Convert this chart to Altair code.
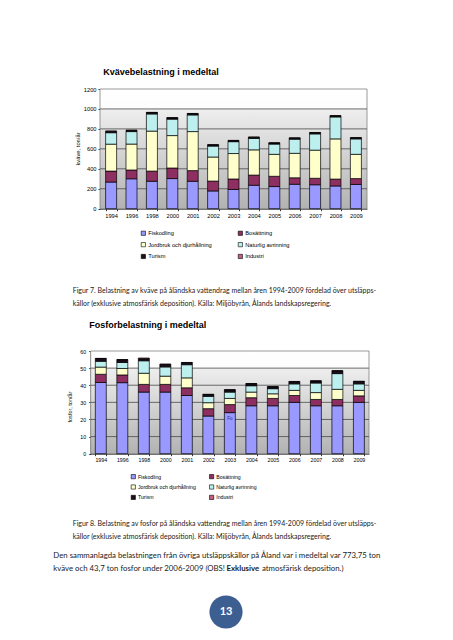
import altair as alt
import pandas as pd

years = ["1994", "1996", "1998", "2000", "2001", "2002", "2003", "2004", "2005", "2006", "2007", "2008", "2009"]
series = ["Fiskodling", "Bosättning", "Jordbruk och djurhållning", "Naturlig avrinning", "Turism", "Industri"]
colors = ["#9999FF", "#8E2F62", "#FFFFCC", "#BDEFEF", "#1C0E1C", "#C0607E"]
# legend is filled column by column: this order shows the entries row by row as in the original
legend_order = [0, 2, 4, 1, 3, 5]

# Kväve (ton/år) per källa
n_fisk = [267, 300, 275, 302, 275, 178, 193, 235, 222, 245, 240, 228, 243]
n_bos = [110, 88, 102, 106, 107, 99, 105, 102, 103, 65, 65, 69, 59]
n_jord = [270, 260, 401, 325, 391, 241, 255, 253, 220, 245, 282, 403, 243]
n_nat = [115, 125, 172, 165, 167, 110, 119, 115, 103, 142, 163, 220, 155]
n_tur = [14, 12, 14, 13, 13, 12, 11, 11, 11, 11, 12, 11, 11]
n_ind = [2, 2, 2, 2, 2, 2, 2, 2, 2, 2, 2, 2, 2]
n_ticks = [0, 200, 400, 600, 800, 1000, 1200]

# Fosfor (ton/år) per källa
p_fisk = [41.6, 41.5, 36.0, 36.0, 34.0, 22.0, 24.0, 28.0, 28.0, 30.0, 28.0, 28.0, 30.0]
p_bos = [4.8, 4.5, 4.5, 4.5, 4.5, 4.3, 4.7, 4.7, 4.3, 4.0, 3.7, 3.7, 3.8]
p_jord = [4.2, 3.8, 6.5, 4.8, 5.8, 3.5, 3.6, 3.3, 2.7, 3.0, 4.0, 5.9, 3.2]
p_nat = [3.4, 3.5, 7.3, 5.4, 7.7, 3.7, 3.7, 3.7, 3.0, 3.8, 5.6, 9.2, 3.8]
p_tur = [1.6, 1.6, 1.2, 1.5, 1.2, 1.1, 1.3, 1.2, 1.1, 1.3, 1.2, 1.6, 1.4]
p_ind = [0.1, 0.1, 0.4, 0.1, 0.1, 0.1, 0.1, 0.1, 0.1, 0.1, 0.1, 0.1, 0.1]
p_ticks = [0, 10, 20, 30, 40, 50, 60]

FONT = "Liberation Sans"
DOC = "Lato"
W, H = 437, 624

leg_domain = [series[i] for i in legend_order]
leg_range = [colors[i] for i in legend_order]


def long_df(cols):
    rows = []
    for si, (name, vals) in enumerate(zip(series, cols)):
        for y, v in zip(years, vals):
            rows.append({"year": y, "series": name, "idx": si, "v": v})
    return pd.DataFrame(rows)


df_n = long_df([n_fisk, n_bos, n_jord, n_nat, n_tur, n_ind])
df_p = long_df([p_fisk, p_bos, p_jord, p_nat, p_tur, p_ind])

gradient = {
    "gradient": "linear",
    "x1": 0, "x2": 0, "y1": 0, "y2": 1,
    "stops": [
        {"offset": 0, "color": "#FFFFFF"},
        {"offset": 0.16, "color": "#FDFDFD"},
        {"offset": 0.17, "color": "#EEEEEE"},
        {"offset": 1, "color": "#B2B2B2"},
    ],
}


def panel(df, ticks, xr, yr, pi, po, lab, ypad, xpad, lx, ly, lfont, lcol, lrow, extra=None):
    xs = alt.Scale(domain=years, range=xr, paddingInner=pi, paddingOuter=po)
    ys = alt.Scale(domain=[ticks[0], ticks[-1]], range=[yr[0], yr[1]], nice=False)
    xaxis = alt.Axis(title=None, orient="bottom", offset=yr[0] - H, labelAngle=0, labelFont=FONT,
                     labelFontSize=lab, labelColor="black", tickBand="extent", tickSize=2,
                     tickColor="black", tickWidth=0.8, domainColor="black", domainWidth=0.8,
                     labelPadding=xpad, grid=False)
    yaxis = alt.Axis(title=None, orient="left", offset=-xr[0], values=ticks, format="d",
                     labelFont=FONT, labelFontSize=lab, labelColor="black", tickSize=2,
                     tickColor="black", tickWidth=0.8, domainColor="black", domainWidth=0.8,
                     labelPadding=ypad, grid=False)
    X = alt.X("year:N", scale=xs, axis=xaxis, sort=years)
    bg = alt.Chart(pd.DataFrame({"a": [0]})).mark_rect(
        fill=gradient, stroke="#808080", strokeWidth=0.8
    ).encode(x=alt.value(xr[0]), x2=alt.value(xr[1]), y=alt.value(yr[1]), y2=alt.value(yr[0]))
    grid = alt.Chart(pd.DataFrame({"v": ticks[1:-1]})).mark_rule(
        color="#4A4A4A", strokeWidth=0.8
    ).encode(y=alt.Y("v:Q", scale=ys, axis=yaxis), x=alt.value(xr[0]), x2=alt.value(xr[1]))
    bars = alt.Chart(df).mark_bar(stroke="black", strokeWidth=0.7).encode(
        x=X,
        y=alt.Y("v:Q", scale=ys, axis=yaxis, stack="zero"),
        color=alt.Color(
            "series:N",
            scale=alt.Scale(domain=leg_domain, range=leg_range),
            legend=alt.Legend(
                title=None, orient="none", legendX=lx, legendY=ly, columns=2,
                symbolType="square", symbolSize=18, symbolStrokeColor="black",
                symbolStrokeWidth=0.6, labelFont=FONT, labelFontSize=lfont,
                labelColor="black", labelOffset=2, columnPadding=lcol, rowPadding=lrow,
                padding=0,
            ),
        ),
        order=alt.Order("idx:Q"),
    )
    layers = [bg, grid, bars]
    if extra is not None:
        layers.append(extra(X, ys, yaxis))
    return alt.layer(*layers)


def fo_label(X, ys, yaxis):
    return alt.Chart(pd.DataFrame({"year": ["2003"], "v": [20.3]})).mark_text(
        text="Fo", font=FONT, fontSize=4.5, color="#2A2A8A"
    ).encode(x=X, y=alt.Y("v:Q", scale=ys, axis=yaxis))


chart_n = panel(df_n, n_ticks, [92, 359], [200.7, 81], 0.46, 0.275, 5.7, 2, 2,
                132.5, 222, 5.7, 24, 3.8)
chart_p = panel(df_p, p_ticks, [82.7, 361], [445.7, 343], 0.49, 0.215, 5.3, 3, 1.5,
                122.7, 466, 5.2, 11.3, 3.4, extra=fo_label)


def txt(s, x, y, size, font=DOC, weight="normal", color="#1A1A1A", align="left", angle=0):
    return alt.Chart(pd.DataFrame({"a": [0]})).mark_text(
        text=s, font=font, fontSize=size, fontWeight=weight, color=color,
        align=align, baseline="middle", angle=angle,
    ).encode(x=alt.value(x), y=alt.value(y))


cap_b = "källor (exklusive atmosfärisk deposition). Källa: Miljöbyrån, Ålands landskapsregering."
texts = [
    txt("Kvävebelastning i medeltal", 95.3, 63.7, 9, font=FONT, weight="bold", color="black"),
    txt("kväve, ton/år", 70, 141, 5.8, font=FONT, color="black", align="center", angle=270),
    txt("Figur 7. Belastning av kväve på åländska vattendrag mellan åren 1994-2009 fördelad över utsläpps-",
        64.7, 283, 7.0),
    txt(cap_b, 64.7, 296, 7.0),
    txt("Fosforbelastning i medeltal", 81.3, 317, 9, font=FONT, weight="bold", color="black"),
    txt("fosfor, ton/år", 62, 399, 5.6, font=FONT, color="black", align="center", angle=270),
    txt("Figur 8. Belastning av fosfor på åländska vattendrag mellan åren 1994-2009 fördelad över utsläpps-",
        64.7, 516, 7.0),
    txt(cap_b, 64.7, 529, 7.0),
    txt("Den sammanlagda belastningen från övriga utsläppskällor på Åland var i medeltal var 773,75 ton",
        45.3, 548, 7.8),
    txt("kväve och 43,7 ton fosfor under 2006-2009 (OBS! ", 45.3, 560.5, 7.8),
    txt("Exklusive", 218.5, 560.5, 7.8, weight="bold"),
    txt(" atmosfärisk deposition.)", 254, 560.5, 7.8),
]

circle = alt.Chart(pd.DataFrame({"a": [0]})).mark_circle(
    size=1100, color="#3D5E91", opacity=1
).encode(x=alt.value(218), y=alt.value(604))
page_no = txt("13", 218, 604, 11, weight="bold", color="white", align="center")

chart = alt.layer(
    chart_n, chart_p, *texts, circle, page_no
).resolve_scale(
    x="independent", y="independent", color="independent"
).properties(
    width=W, height=H, autosize="none", padding=0, background="white"
).configure_view(stroke=None)

chart.save("out.html", embed_options={"renderer": "svg", "actions": False})
